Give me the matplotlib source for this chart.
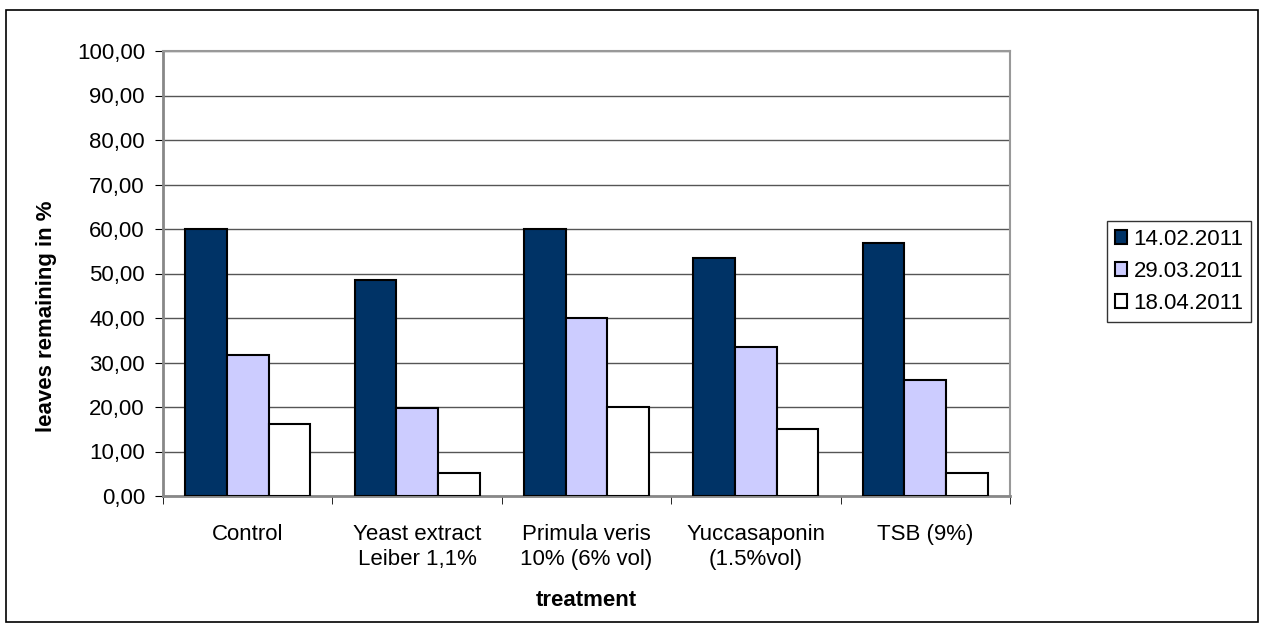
import numpy as np
import matplotlib
matplotlib.use("Agg")
import matplotlib.pyplot as plt
from matplotlib.patches import Rectangle

plt.rcParams['font.family'] = ['Liberation Sans', 'DejaVu Sans']

categories = ["Control", "Yeast extract\nLeiber 1,1%", "Primula veris\n10% (6% vol)",
              "Yuccasaponin\n(1.5%vol)", "TSB (9%)"]
series = ["14.02.2011", "29.03.2011", "18.04.2011"]
d_1402 = [60.0, 48.5, 60.1, 53.4, 56.8]
d_2903 = [31.7, 19.8, 40.1, 33.5, 26.1]
d_1804 = [16.1, 5.2, 20.1, 15.1, 5.1]
colors = ["#003366", "#CCCCFF", "#FFFFFF"]

FS = 16
fig = plt.figure(figsize=(12.64, 6.33), dpi=100)
W, H = 1264, 633
ax = fig.add_axes([163 / W, 1 - 496 / H, (1010 - 163) / W, (496 - 51) / H])

# outer chart border
fig.patches.append(Rectangle((6 / W, 1 - 622 / H), 1252 / W, 612 / H, transform=fig.transFigure,
                             fill=False, edgecolor="black", lw=1.2))

x = np.arange(len(categories))
bw = 0.246
for i, (vals, c) in enumerate(zip([d_1402, d_2903, d_1804], colors)):
    ax.bar(x + (i - 1) * bw, vals, bw, color=c, edgecolor="black", lw=1.5,
           label=series[i], zorder=3)

ax.set_xlim(-0.5, len(categories) - 0.5)
ax.set_ylim(0, 100)
ax.set_yticks(np.arange(0, 101, 10))
ax.set_yticklabels([f"{v:.2f}".replace(".", ",") for v in np.arange(0, 101, 10)], fontsize=FS)
ax.yaxis.grid(True, color="#555555", lw=1, zorder=0)
ax.set_xticks(x)
ax.set_xticklabels(categories, fontsize=FS, linespacing=1.25)
ax.tick_params(axis="x", length=0, pad=20)
ax.set_xticks(np.arange(-0.5, len(categories)), minor=True)
ax.tick_params(axis="x", which="minor", length=6, direction="out", color="black")
ax.tick_params(axis="y", length=6, direction="out", color="black", pad=7)
for s in ["top", "right"]:
    ax.spines[s].set_color("#999999")
    ax.spines[s].set_linewidth(1.5)
for s in ["left", "bottom"]:
    ax.spines[s].set_color("#888888")
    ax.spines[s].set_linewidth(2)

ax.set_ylabel("leaves remaining in %", fontsize=FS, fontweight="bold")
ax.yaxis.set_label_coords(47 / W, 0.5, transform=fig.transFigure)
ax.yaxis.label.set_va("center")
ax.set_xlabel("treatment", fontsize=FS, fontweight="bold")
ax.xaxis.label.set_va("center")
ax.xaxis.set_label_coords((163 + 1010) / 2 / W, 1 - 600 / H, transform=fig.transFigure)

leg = ax.legend(loc="upper left", bbox_to_anchor=(1107 / W, 1 - 221 / H),
                bbox_transform=fig.transFigure, fontsize=FS, frameon=True, fancybox=False,
                handlelength=0.55, handleheight=0.55, handletextpad=0.3, borderpad=0.35,
                labelspacing=0.5, borderaxespad=0)
leg.get_frame().set_edgecolor("black")
leg.get_frame().set_linewidth(1)

fig.savefig("out.png", dpi=100)
